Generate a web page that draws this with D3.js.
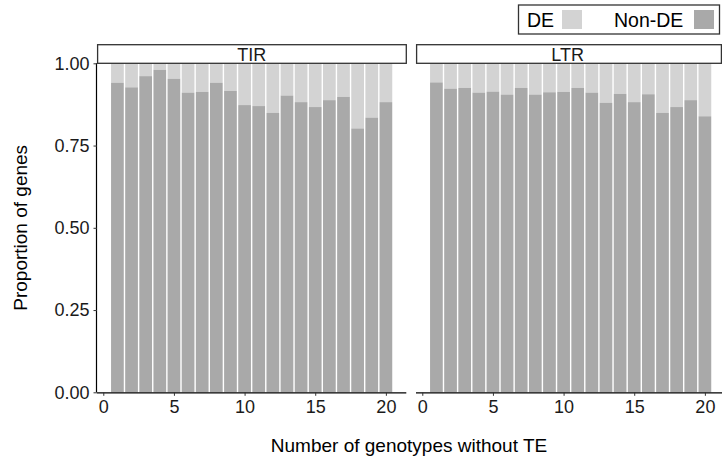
<!DOCTYPE html>
<html>
<head>
<meta charset="utf-8">
<script src="https://cdn.jsdelivr.net/npm/d3@7"></script>
<style>
  body { margin: 0; background: #fff; }
  svg { display: block; font-family: "Liberation Sans", Arial, Helvetica, sans-serif; }
</style>
</head>
<body>
<svg id="chart" width="722" height="462"></svg>
<script>
// ---- data ----
const genotypes = d3.range(1, 21);
const panels = ["TIR", "LTR"];
const tirNonDE = [0.941, 0.927, 0.961, 0.980, 0.953, 0.911, 0.913, 0.941, 0.916, 0.873,
                  0.870, 0.849, 0.902, 0.882, 0.867, 0.888, 0.898, 0.802, 0.835, 0.882];
const ltrNonDE = [0.942, 0.923, 0.925, 0.911, 0.914, 0.905, 0.925, 0.905, 0.912, 0.913,
                  0.925, 0.911, 0.880, 0.907, 0.882, 0.906, 0.849, 0.867, 0.888, 0.839];
const yTicks = [0, 0.25, 0.5, 0.75, 1.0];
const xTicks = [0, 5, 10, 15, 20];
const legendKeys = ["DE", "Non-DE"];
const colors = { "DE": "#d3d3d3", "Non-DE": "#a9a9a9" };

const seriesByPanel = { "TIR": tirNonDE, "LTR": ltrNonDE };

// ---- layout ----
const svg = d3.select("#chart");
const panelTop = 63.3, panelBottom = 392.3;
const panelX = { "TIR": [97, 406.3], "LTR": [416, 725.3] };
const stripH = 18.6;
const barW = 0.9;
const tickFont = 18, titleFont = 19;

const y = d3.scaleLinear().domain([0, 1]).range([panelBottom, panelTop]);

panels.forEach((p, pi) => {
  const [x0, x1] = panelX[p];
  const x = d3.scaleLinear().domain([-0.445, 21.445]).range([x0, x1]);
  const g = svg.append("g");
  const vals = seriesByPanel[p];
  const rows = genotypes.map((gt, i) => ({ gt, nonde: vals[i] }));

  // DE (top part)
  g.selectAll("rect.de").data(rows).enter().append("rect")
    .attr("class", "de")
    .attr("x", d => x(d.gt - barW / 2))
    .attr("width", d => x(d.gt + barW / 2) - x(d.gt - barW / 2))
    .attr("y", y(1))
    .attr("height", d => y(d.nonde) - y(1))
    .attr("fill", colors["DE"]);
  // Non-DE (bottom part)
  g.selectAll("rect.nonde").data(rows).enter().append("rect")
    .attr("class", "nonde")
    .attr("x", d => x(d.gt - barW / 2))
    .attr("width", d => x(d.gt + barW / 2) - x(d.gt - barW / 2))
    .attr("y", d => y(d.nonde))
    .attr("height", d => y(0) - y(d.nonde))
    .attr("fill", colors["Non-DE"]);

  // x axis
  const xa = g.append("g").attr("transform", `translate(0,${panelBottom})`)
    .call(d3.axisBottom(x).tickValues(xTicks).tickSize(3.5).tickPadding(4).tickFormat(d3.format("d")));
  xa.select(".domain").attr("stroke", "#000").attr("stroke-width", 1.2)
    .attr("d", `M${x0},0.5H${Math.min(x1, 722)}`);
  xa.selectAll(".tick line").attr("stroke", "#333").attr("stroke-width", 1);
  xa.selectAll(".tick text").attr("fill", "#1a1a1a").attr("font-size", tickFont)
    .attr("font-family", "Liberation Sans, Arial, sans-serif");

  // y axis only on first panel
  if (pi === 0) {
    const ya = g.append("g").attr("transform", `translate(${x0},0)`)
      .call(d3.axisLeft(y).tickValues(yTicks).tickSize(3.5).tickPadding(4).tickFormat(d3.format(".2f")));
    ya.select(".domain").attr("stroke", "#000").attr("stroke-width", 1.2)
      .attr("d", `M-0.5,${panelTop}V${panelBottom}`);
    ya.selectAll(".tick line").attr("stroke", "#333").attr("stroke-width", 1);
    ya.selectAll(".tick text").attr("fill", "#1a1a1a").attr("font-size", tickFont)
      .attr("font-family", "Liberation Sans, Arial, sans-serif");
  }

  // strip
  g.append("rect")
    .attr("x", x0 + 0.6).attr("y", panelTop - stripH)
    .attr("width", Math.min(x1, 721.4) - x0 - 0.6).attr("height", stripH)
    .attr("fill", "#fff").attr("stroke", "#333").attr("stroke-width", 1.3);
  g.append("text")
    .attr("x", (x0 + x1) / 2 - (pi === 1 ? 3 : 0)).attr("y", panelTop - 2.6)
    .attr("text-anchor", "middle").attr("font-size", tickFont).attr("fill", "#1a1a1a")
    .text(p);
});

// axis titles
svg.append("text")
  .attr("x", 409).attr("y", 452)
  .attr("text-anchor", "middle").attr("font-size", titleFont).attr("fill", "#000")
  .text("Number of genotypes without TE");
svg.append("text")
  .attr("transform", `translate(27,${(panelTop + panelBottom) / 2}) rotate(-90)`)
  .attr("text-anchor", "middle").attr("font-size", titleFont).attr("fill", "#000")
  .text("Proportion of genes");

// legend
const lg = svg.append("g");
lg.append("rect").attr("x", 518.5).attr("y", 5).attr("width", 201).attr("height", 29)
  .attr("fill", "#fff").attr("stroke", "#333").attr("stroke-width", 1.3);
const legendPos = { "DE": { tx: 527, sx: 562 }, "Non-DE": { tx: 614, sx: 694 } };
legendKeys.forEach(k => {
  lg.append("text").attr("x", legendPos[k].tx).attr("y", 27.3)
    .attr("font-size", 19.5).attr("fill", "#000").text(k);
  lg.append("rect").attr("x", legendPos[k].sx).attr("y", 10)
    .attr("width", 20).attr("height", 19).attr("fill", colors[k]);
});
</script>
</body>
</html>
